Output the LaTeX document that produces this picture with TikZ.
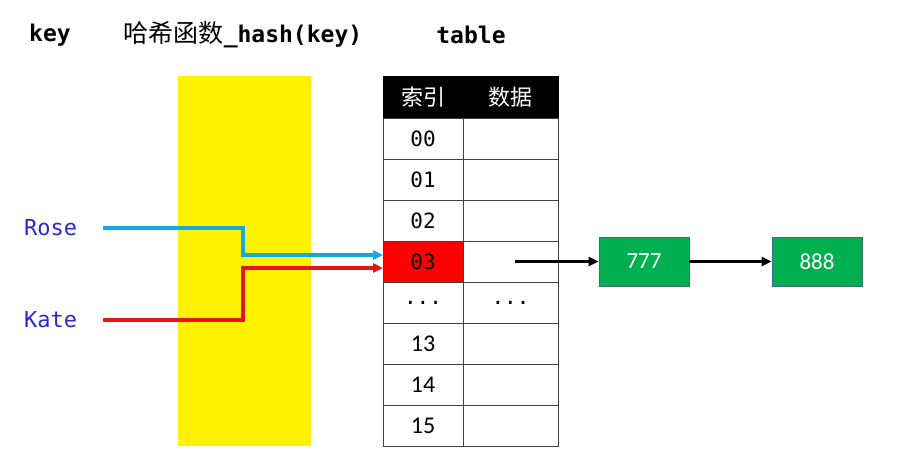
\documentclass[tikz,border=0pt]{standalone}
\usepackage{fontspec}
\setmainfont{Liberation Sans}
\setmonofont{DejaVu Sans Mono}
\newfontfamily\cjk{Noto Sans CJK SC}
\newfontfamily\calib{Carlito}
\usetikzlibrary{positioning,arrows.meta}

\definecolor{keyblue}{RGB}{45,40,205}
\definecolor{roseline}{RGB}{20,170,225}
\definecolor{kateline}{RGB}{230,20,20}
\definecolor{boxgreen}{RGB}{0,176,80}
\definecolor{boxedge}{RGB}{60,110,130}

\begin{document}
\begin{tikzpicture}[x=1pt, y=-1pt, >={Triangle[length=10pt,width=9pt]},
    cell/.style={draw=black!75, line width=1pt, minimum height=41pt, inner sep=0pt, outer sep=0pt},
    idxcell/.style={cell, minimum width=80pt},
    datcell/.style={cell, minimum width=95pt},
    headcell/.style={fill=black, draw=black, text=white, minimum height=42pt, inner sep=0pt, outer sep=0pt, font=\cjk\fontsize{22}{22}\selectfont},
    keytext/.style={text=keyblue, font=\ttfamily\fontsize{22}{22}\selectfont, inner sep=2pt},
    coltitle/.style={font=\ttfamily\bfseries\fontsize{23}{23}\selectfont},
    listbox/.style={fill=boxgreen, draw=boxedge, line width=0.8pt, minimum width=90pt, minimum height=49pt, text=white, font=\calib\fontsize{23}{23}\selectfont},
    hashline/.style={->, line width=3.2pt},
    chainarrow/.style={->, line width=2.2pt}]
    \useasboundingbox (0,0) rectangle (899,471);
    % Column titles
    \node[coltitle] (keytitle) at (50,35) {key};
    \node[coltitle] (hashtitle) at (243,35) {{\cjk\mdseries\fontsize{25}{25}\selectfont 哈希函数}\_hash(key)};
    \node[coltitle] (tabletitle) at (471,35) {table};
    % Hash function band
    \fill[yellow] (178,76) rectangle (311,446);
    % Table header
    \node[headcell, minimum width=80pt] (idxhead) at (423,97) {索引};
    \node[headcell, minimum width=95pt] (dathead) at (510.5,97) {数据};
    % Table rows
    \foreach \lbl/\nm/\bg [count=\i from 0] in {{\ttfamily 00}/00/white, {\ttfamily 01}/01/white, {\ttfamily 02}/02/white, {\ttfamily 03}/03/red, {\ttfamily ...}/dots/white, {\calib\fontsize{24}{24}\selectfont 13}/13/white, {\calib\fontsize{24}{24}\selectfont 14}/14/white, {\calib\fontsize{24}{24}\selectfont 15}/15/white} {
        \node[idxcell, fill=\bg, font=\fontsize{21}{21}\selectfont] (i\nm) at (423,138.5+41*\i) {\lbl};
        \node[datcell] (d\nm) at (510.5,138.5+41*\i) {};
    }
    \node[font=\ttfamily\fontsize{21}{21}\selectfont] at (ddots) {...};
    % Keys
    \node[keytext, anchor=west] (rose) at (22,228) {Rose};
    \node[keytext, anchor=west] (kate) at (22,320) {Kate};
    % Keys through the hash function
    \draw[hashline, roseline] ([xshift=24pt]rose.east) -| (243,255) -- ([yshift=6.5pt]i03.west);
    \draw[hashline, kateline] ([xshift=24pt]kate.east) -| (243,268) -- ([yshift=-6.5pt]i03.west);
    % Linked list of slot 03
    \node[listbox] (n777) at (644,261.5) {777};
    \node[listbox] (n888) at (817,261.5) {888};
    \draw[chainarrow] ([xshift=4.5pt]d03.center) -- (n777.west);
    \draw[chainarrow] (n777.east) -- (n888.west);
\end{tikzpicture}
\end{document}
